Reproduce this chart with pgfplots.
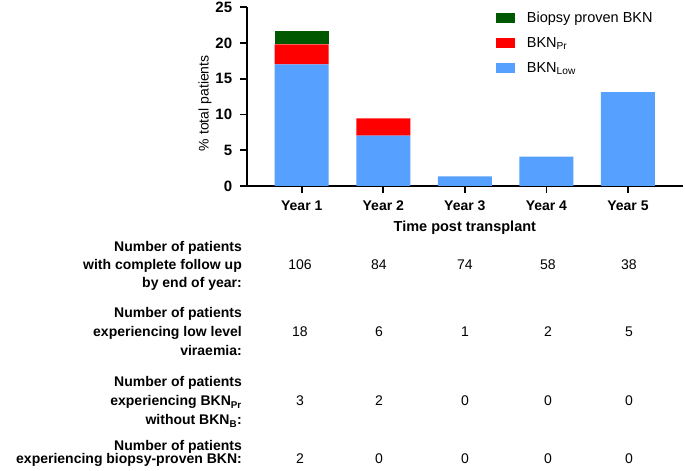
\documentclass[border=0pt]{standalone}
\usepackage{fontspec}
\setmainfont{Liberation Sans}
\usepackage{pgfplots}
\pgfplotsset{compat=1.18}
\definecolor{lowblue}{RGB}{86,160,255}
\definecolor{prred}{RGB}{255,0,0}
\definecolor{bgreen}{RGB}{0,88,0}
\newcommand{\fs}[1]{\fontsize{#1bp}{#1bp}\selectfont}
\pgfplotsset{sqleg/.style={legend image code/.code={\path[##1,draw=none] (0bp,-4bp) rectangle (19bp,6bp);}}}

\begin{document}
\begin{tikzpicture}
\useasboundingbox (-246.7bp,-285bp) rectangle (438.3bp,186bp);
\begin{axis}[
  at={(0,0)}, anchor=south west,
  scale only axis, width=436.3bp, height=178.7bp,
  ybar stacked, bar width=54bp,
  xmin=0.325, xmax=5.675, ymin=0, ymax=25,
  xtick={1,2,3,4,5},
  xticklabels={Year 1,Year 2,Year 3,Year 4,Year 5},
  ytick={0,5,...,25},
  axis lines*=left,
  axis line style={line width=1.8bp},
  tick style={line width=1.8bp, black},
  major tick length=7bp,
  tick align=outside,
  /pgf/number format/assume math mode=true,
  xticklabel style={font=\fs{14}\bfseries, inner sep=0pt, yshift=-7.5bp},
  yticklabel style={font=\fs{15}\bfseries, inner sep=0pt, xshift=-7.4bp},
  ylabel={\% total patients},
  ylabel style={font=\fs{14}, at={(axis description cs:-0.0956,0.463)}, anchor=center},
  xlabel={Time post transplant},
  xlabel style={font=\fs{14.5}\bfseries, at={(axis description cs:0.5,0)}, anchor=base, yshift=-45bp},
  legend style={draw=none, fill=none, inner sep=0pt,
    at={(axis description cs:0.5714,0.9698)}, anchor=north west,
    font=\fs{14.5}, row sep=11.6bp, column sep=11.7bp,
    nodes={inner sep=0pt, text height=10bp, text depth=3bp}},
  legend cell align=left,
  reverse legend,
]
\addplot[fill=lowblue, draw=none, sqleg] coordinates {(1,17.0) (2,7.05) (3,1.33) (4,4.12) (5,13.15)};
\addplot[fill=prred, draw=none, sqleg] coordinates {(1,2.83) (2,2.4) (3,0) (4,0) (5,0)};
\addplot[fill=bgreen, draw=none, sqleg] coordinates {(1,1.87) (2,0) (3,0) (4,0) (5,0)};
\legend{BKN\textsubscript{Low}, BKN\textsubscript{Pr}, Biopsy proven BKN}
\end{axis}
\begin{scope}[shift={(-246.7bp,186bp)}, x=1bp, y=-1bp]
\tikzset{lab/.style={anchor=base east, inner sep=0pt, font=\fs{14}\bfseries},
         num/.style={anchor=base, inner sep=0pt, font=\fs{14}}}
\node[lab] at (242,252) {Number of patients};
\node[lab] at (242,270) {with complete follow up};
\node[lab] at (242,288) {by end of year:};
\node[lab] at (242,318) {Number of patients};
\node[lab] at (242,337) {experiencing low level};
\node[lab] at (242,356) {viraemia:};
\node[lab] at (242,387) {Number of patients};
\node[lab] at (242,406) {experiencing BKN\textsubscript{Pr}};
\node[lab] at (242,425) {without BKN\textsubscript{B}:};
\node[lab] at (242,451) {Number of patients};
\node[lab] at (242,464) {experiencing biopsy-proven BKN:};
\foreach \x/\a/\b/\c/\d in {300/106/18/3/2, 379/84/6/2/0, 465/74/1/0/0, 548/58/2/0/0, 629/38/5/0/0}{
  \node[num] at (\x,270) {\a};
  \node[num] at (\x,337) {\b};
  \node[num] at (\x,406) {\c};
  \node[num] at (\x,464) {\d};
}
\end{scope}
\end{tikzpicture}
\end{document}
